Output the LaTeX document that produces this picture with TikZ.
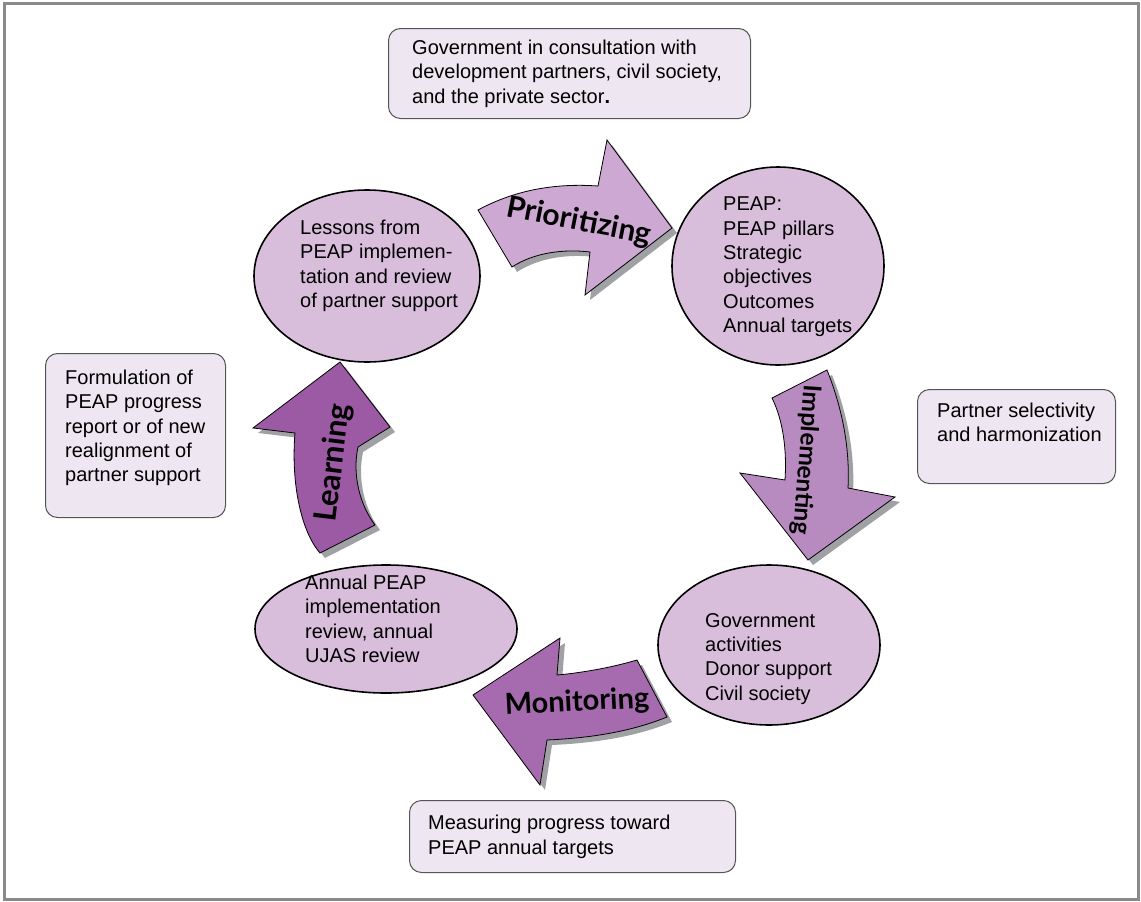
\documentclass[tikz,border=0pt]{standalone}
\usepackage{fontspec}
\setmainfont{Liberation Sans}
\newfontfamily\arrowfont{Lato}
\usetikzlibrary{shapes.geometric}

\definecolor{stagefill}{HTML}{D9BEDC}
\definecolor{notefill}{HTML}{EEE6F1}
\definecolor{noteline}{HTML}{555555}
\definecolor{prioFill}{HTML}{CDA8D2}
\definecolor{implFill}{HTML}{B88BC0}
\definecolor{moniFill}{HTML}{A66BAE}
\definecolor{learnFill}{HTML}{9B5AA3}
\definecolor{shadowgray}{HTML}{A0A1A5}
\definecolor{framegray}{HTML}{8A8A8A}

% curved block arrow with its grey drop shadow
\newcommand{\cyclearrow}[2]{%
  \fill[shadowgray,shift={(5,5)}] #2;
  \filldraw[draw=black,line width=0.8,fill=#1,line join=miter] #2;}

\begin{document}
\begin{tikzpicture}[x=1pt,y=-1pt,
  stage/.style={ellipse,draw,line width=1.6,fill=stagefill,inner sep=0},
  note/.style={rectangle,rounded corners=12,draw=noteline,line width=1,fill=notefill,inner sep=0,anchor=north west},
  txt/.style={align=left,anchor=north west,inner sep=0,font=\fontsize{20}{24.3}\selectfont},
  verb/.style={inner sep=0,font=\arrowfont\bfseries\fontsize{#1}{30}\selectfont},
  verb/.default=28]
  \useasboundingbox (0,0) rectangle (1141,902);
  \draw[framegray,line width=3] (4.5,3.5) rectangle (1138.5,899.5);

  % the four steps of the cycle
  \cyclearrow{prioFill}{(478,210) .. controls (515,190) and (555,183) .. (598,186) -- (607,140) -- (672,228) -- (585,295) -- (590,252) .. controls (565,249) and (535,252) .. (512,267) -- cycle}
  \cyclearrow{implFill}{(772,398) -- (827,370) .. controls (843,410) and (850,450) .. (848,488) -- (895,497) -- (808,560) -- (740,473) -- (785,480) .. controls (787,450) and (783,420) .. (772,398) -- cycle}
  \cyclearrow{moniFill}{(637,660) .. controls (610,668) and (580,673) .. (557,675) -- (560,638) -- (473,695) -- (540,785) -- (547,740) .. controls (590,738) and (630,732) .. (667,717) -- cycle}
  \cyclearrow{learnFill}{(340,362) -- (390,427) -- (358,447) .. controls (352,475) and (360,505) .. (375,525) -- (320,553) .. controls (300,530) and (291,480) .. (295,433) -- (253,428) -- cycle}
  \node[verb=30,rotate=-11] (prio) at (579,222) {Prioritizing};
  \node[verb=24.5,rotate=-94] (impl) at (806,460) {Implementing};
  \node[verb=29,rotate=3] (moni) at (577,703) {Monitoring};
  \node[verb=31,rotate=83] (learn) at (334,463) {Learning};

  % stages
  \node[stage,minimum width=226,minimum height=172] (lessonsE) at (367,276) {};
  \node[txt] (lessons) at (300,220) {Lessons from\\PEAP implemen-\\tation and review\\of partner support};
  \node[stage,minimum width=212,minimum height=198] (peapE) at (778,266) {};
  \node[txt] (peap) at (723,197) {PEAP:\\PEAP pillars\\Strategic\\objectives\\Outcomes\\Annual targets};
  \node[stage,minimum width=222,minimum height=160] (govE) at (769,645) {};
  \node[txt] (gov) at (705,613) {Government\\activities\\Donor support\\Civil society};
  \node[stage,minimum width=262,minimum height=128] (annualE) at (386,629) {};
  \node[txt] (annual) at (305,575) {Annual PEAP\\implementation\\review, annual\\UJAS review};

  % notes
  \node[note,minimum width=362,minimum height=90] (consultBox) at (388,28) {};
  \node[txt] (consult) at (412,40) {Government in consultation with\\development partners, civil society,\\and the private sector\textbf{.}};
  \node[note,minimum width=180,minimum height=164] (reportBox) at (45,353) {};
  \node[txt] (report) at (65,370) {Formulation of\\PEAP progress\\report or of new\\realignment of\\partner support};
  \node[note,minimum width=198,minimum height=94] (selectBox) at (917,389) {};
  \node[txt] (select) at (937,403) {Partner selectivity\\and harmonization};
  \node[note,minimum width=326,minimum height=72] (measureBox) at (409,800) {};
  \node[txt] (measure) at (428,815) {Measuring progress toward\\PEAP annual targets};
\end{tikzpicture}
\end{document}
